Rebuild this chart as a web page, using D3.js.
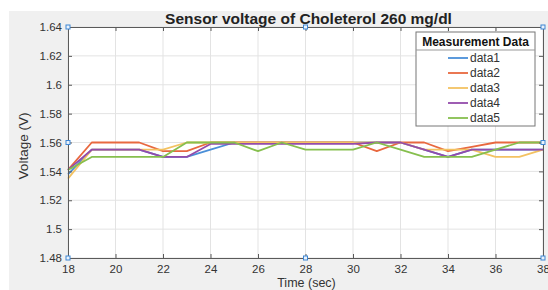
<!DOCTYPE html>
<html>
<head>
<meta charset="utf-8">
<script src="https://cdn.jsdelivr.net/npm/d3@7"></script>
<style>
    body { margin: 0; background: #fff; }
    svg { display: block; font-family: "Liberation Sans", Arial, sans-serif; }
</style>
</head>
<body>
<div id="chart"></div>
<script>
const times = d3.range(18, 39);
const xTicks = [18, 20, 22, 24, 26, 28, 30, 32, 34, 36, 38];
const yTicks = [1.48, 1.5, 1.52, 1.54, 1.56, 1.58, 1.6, 1.62, 1.64];
const seriesNames = ['data1', 'data2', 'data3', 'data4', 'data5'];

const data1 = [1.538, 1.555, 1.555, 1.555, 1.55, 1.55, 1.555, 1.56, 1.56, 1.56, 1.56, 1.56, 1.56, 1.56, 1.56, 1.555, 1.55, 1.555, 1.555, 1.555, 1.555];
const data2 = [1.541, 1.56, 1.56, 1.56, 1.554, 1.554, 1.56, 1.56, 1.56, 1.56, 1.56, 1.56, 1.56, 1.554, 1.56, 1.56, 1.554, 1.557, 1.56, 1.56, 1.56];
const data3 = [1.535, 1.555, 1.555, 1.555, 1.555, 1.56, 1.56, 1.56, 1.56, 1.56, 1.56, 1.56, 1.56, 1.56, 1.56, 1.555, 1.555, 1.555, 1.55, 1.55, 1.555];
const data4 = [1.541, 1.555, 1.555, 1.555, 1.55, 1.55, 1.559, 1.559, 1.559, 1.559, 1.559, 1.559, 1.559, 1.56, 1.56, 1.555, 1.55, 1.555, 1.555, 1.555, 1.555];
const data5 = [1.541, 1.55, 1.55, 1.55, 1.55, 1.56, 1.56, 1.56, 1.554, 1.56, 1.555, 1.555, 1.555, 1.56, 1.555, 1.55, 1.55, 1.55, 1.555, 1.56, 1.56];

const allSeries = [data1, data2, data3, data4, data5];
const colors = ['#4a8fd8', '#e8683f', '#f3c262', '#934bab', '#86bf4e'];

const svgWidth = 548;
const svgHeight = 290;
const margins = {t: 27, r: 5, b: 32, l: 68};
const graphWidth = svgWidth - margins.l - margins.r;
const graphHeight = 258 - margins.t;

const svg = d3.select('#chart')
    .append('svg')
    .attr('width', svgWidth)
    .attr('height', svgHeight);

// figure background
svg.append('rect')
    .attr('x', 9).attr('y', 11)
    .attr('width', svgWidth - 9).attr('height', svgHeight - 11)
    .attr('fill', '#f0f0f0');

const g = svg.append('g').attr('transform', `translate(${margins.l},${margins.t})`);

const x = d3.scaleLinear().domain([18, 38]).range([0, graphWidth]);
const y = d3.scaleLinear().domain([1.48, 1.64]).range([graphHeight, 0]);

g.append('rect')
    .attr('width', graphWidth).attr('height', graphHeight)
    .attr('fill', '#fff');

// grid
g.selectAll('.vgrid').data(xTicks).join('line')
    .attr('class', 'vgrid')
    .attr('x1', d => x(d)).attr('x2', d => x(d))
    .attr('y1', 0).attr('y2', graphHeight)
    .attr('stroke', '#e3e3e3').attr('stroke-width', 1);
g.selectAll('.hgrid').data(yTicks).join('line')
    .attr('class', 'hgrid')
    .attr('x1', 0).attr('x2', graphWidth)
    .attr('y1', d => y(d)).attr('y2', d => y(d))
    .attr('stroke', '#e3e3e3').attr('stroke-width', 1);

// lines
const line = d3.line()
    .x((d, i) => x(times[i]))
    .y(d => y(d));

g.selectAll('path.series').data(allSeries).join('path')
    .attr('class', 'series')
    .attr('fill', 'none')
    .attr('stroke', (d, i) => colors[i])
    .attr('stroke-width', 1.8)
    .attr('stroke-linejoin', 'round')
    .attr('d', line);

// axes, box style with inner ticks on all sides
const axisColor = '#5a5a5a';
function styleAxis(sel) {
    sel.select('.domain').attr('stroke', axisColor);
    sel.selectAll('.tick line').attr('stroke', axisColor);
    sel.selectAll('.tick text').attr('fill', '#333').style('font-size', '11.5px')
        .style('font-family', '"Liberation Sans", Arial, sans-serif');
}

g.append('g')
    .attr('transform', `translate(0,${graphHeight})`)
    .call(d3.axisBottom(x).tickValues(xTicks).tickSize(-4).tickPadding(7).tickSizeOuter(0).tickFormat(d3.format('d')))
    .call(styleAxis);
g.append('g')
    .call(d3.axisTop(x).tickValues(xTicks).tickSize(-4).tickSizeOuter(0).tickFormat(''))
    .call(styleAxis);
g.append('g')
    .call(d3.axisLeft(y).tickValues(yTicks).tickSize(-4).tickPadding(6).tickSizeOuter(0).tickFormat(d => d3.format('')(+d.toFixed(2))))
    .call(styleAxis);
g.append('g')
    .attr('transform', `translate(${graphWidth},0)`)
    .call(d3.axisRight(y).tickValues(yTicks).tickSize(-4).tickSizeOuter(0).tickFormat(''))
    .call(styleAxis);

// selection handles
const handles = [[18, 1.64], [28, 1.64], [38, 1.64], [18, 1.56], [38, 1.56], [18, 1.48], [28, 1.48], [38, 1.48]];
g.selectAll('.handle').data(handles).join('rect')
    .attr('class', 'handle')
    .attr('x', d => x(d[0]) - 2).attr('y', d => y(d[1]) - 2)
    .attr('width', 4).attr('height', 4)
    .attr('fill', '#eaf2fb').attr('stroke', '#3d86d4').attr('stroke-width', 1);

// title and axis titles
svg.append('text')
    .attr('x', margins.l + graphWidth / 2 + 3)
    .attr('y', 23.5)
    .attr('text-anchor', 'middle')
    .style('font-size', '15.5px')
    .style('font-weight', 'bold')
    .style('fill', '#222')
    .text('Sensor voltage of Choleterol 260 mg/dl');

svg.append('text')
    .attr('x', margins.l + graphWidth / 2 + 1)
    .attr('y', 286.5)
    .attr('text-anchor', 'middle')
    .style('font-size', '12.5px')
    .style('fill', '#333')
    .text('Time (sec)');

svg.append('text')
    .attr('transform', `translate(28,146) rotate(-90)`)
    .attr('text-anchor', 'middle')
    .style('font-size', '13.5px')
    .style('fill', '#333')
    .text('Voltage (V)');

// legend
const legend = svg.append('g').attr('transform', 'translate(416,32)');
legend.append('rect')
    .attr('width', 119).attr('height', 94)
    .attr('fill', '#fff').attr('stroke', '#777').attr('stroke-width', 1);
legend.append('text')
    .attr('x', 59.5).attr('y', 14)
    .attr('text-anchor', 'middle')
    .style('font-size', '12px')
    .style('font-weight', 'bold')
    .style('fill', '#111')
    .text('Measurement Data');
legend.append('line')
    .attr('x1', 0).attr('x2', 119).attr('y1', 18).attr('y2', 18)
    .attr('stroke', '#999');

const items = legend.selectAll('.item').data(seriesNames).join('g')
    .attr('class', 'item')
    .attr('transform', (d, i) => `translate(0,${26 + i * 15})`);
items.append('line')
    .attr('x1', 32).attr('x2', 52)
    .attr('stroke', (d, i) => colors[i])
    .attr('stroke-width', 1.8);
items.append('text')
    .attr('x', 54).attr('y', 4)
    .style('font-size', '12px')
    .style('fill', '#333')
    .text(d => d);
</script>
</body>
</html>
